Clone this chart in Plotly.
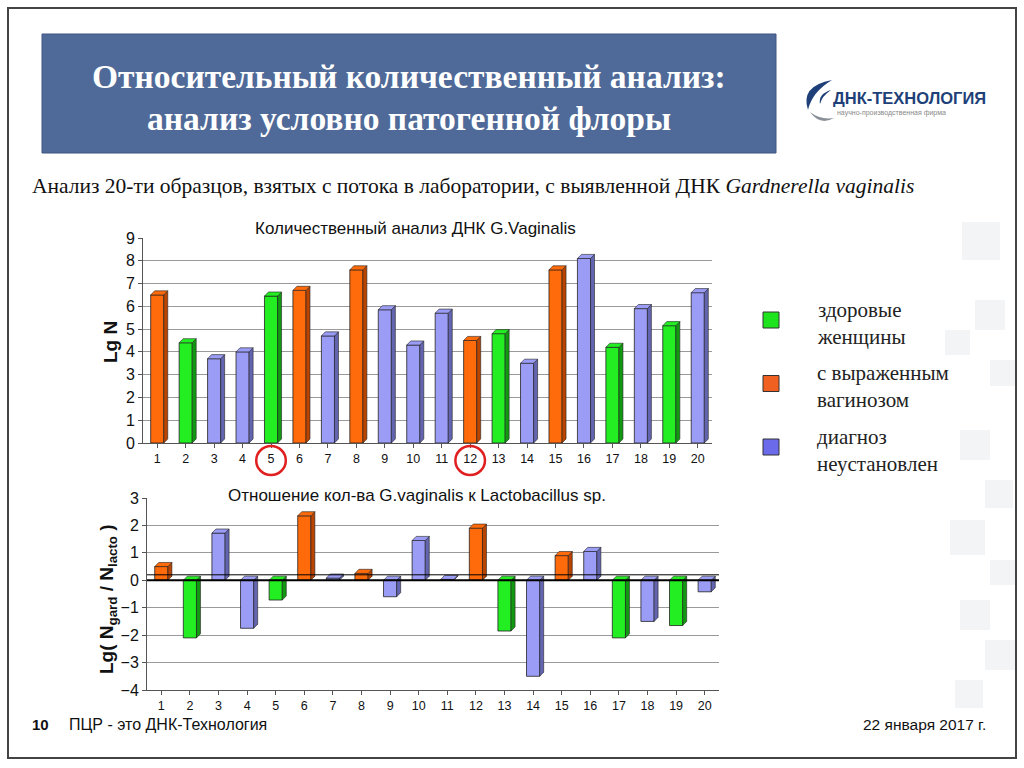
import plotly.graph_objects as go

samples = list(range(1, 21))
lg_n = [6.5, 4.4, 3.7, 4.0, 6.45, 6.7, 4.7, 7.6, 5.85, 4.3, 5.7, 4.5, 4.8, 3.5, 7.6, 8.1, 4.2, 5.9, 5.15, 6.6]
lg_ratio = [0.5, -2.1, 1.72, -1.75, -0.72, 2.35, 0.08, 0.25, -0.6, 1.45, 0.03, 1.9, -1.85, -3.5, 0.9, 1.05, -2.1, -1.5, -1.65, -0.42]
groups = ["o", "g", "b", "b", "g", "o", "b", "o", "b", "b", "b", "o", "g", "b", "o", "b", "g", "b", "g", "b"]
group_colors = {"g": "#22EE22", "o": "#FF6A0A", "b": "#9A9CF6"}
side_colors = {"g": "#119911", "o": "#B84400", "b": "#6465B0"}
legend_labels = [("g", "здоровые", "женщины"), ("o", "с выраженным", "вагинозом"), ("b", "диагноз", "неустановлен")]
legend_colors = {"g": "#1EE41E", "o": "#F06020", "b": "#6A6AEA"}
highlight = [5, 12]

W, H = 1024, 768
def px(x): return x / W
def py(y): return 1 - y / H

fig = go.Figure()
colors = [group_colors[g] for g in groups]
bw = 0.46
fig.add_trace(go.Bar(x=samples, y=lg_n, width=bw, marker=dict(color=colors, line=dict(color="#222", width=0.8)),
                     xaxis="x", yaxis="y", showlegend=False, hoverinfo="skip"))
fig.add_trace(go.Bar(x=samples, y=lg_ratio, width=bw, marker=dict(color=colors, line=dict(color="#222", width=0.8)),
                     xaxis="x2", yaxis="y2", showlegend=False, hoverinfo="skip"))

shapes = []
# slide frame
shapes.append(dict(type="rect", xref="paper", yref="paper", x0=px(8), x1=px(1016), y0=py(758), y1=py(8),
                   line=dict(color="#444", width=2), fillcolor="rgba(0,0,0,0)"))
# title box
shapes.append(dict(type="rect", xref="paper", yref="paper", x0=px(42), x1=px(776), y0=py(153), y1=py(34),
                   line=dict(color="#3E5580", width=1), fillcolor="#4F6A98", layer="below"))

def faces(xr, yr, vals, dx, dy):
    for x, v, g in zip(samples, vals, groups):
        hi = max(v, 0); lo = min(v, 0)
        r = x + bw / 2; l = x - bw / 2
        shapes.append(dict(type="path", xref=xr, yref=yr,
                           path=f"M{r},{lo} L{r+dx},{lo+dy} L{r+dx},{hi+dy} L{r},{hi} Z",
                           fillcolor=side_colors[g], line=dict(color="#222", width=0.6)))
        shapes.append(dict(type="path", xref=xr, yref=yr,
                           path=f"M{l},{hi} L{r},{hi} L{r+dx},{hi+dy} L{l+dx},{hi+dy} Z",
                           fillcolor=group_colors[g], line=dict(color="#222", width=0.6)))

faces("x", "y", lg_n, 0.14, 0.18)
faces("x2", "y2", lg_ratio, 0.14, 0.15)

# floor edge of upper chart and zero line on lower chart
shapes.append(dict(type="line", xref="x", yref="y", x0=20.5, x1=20.8, y0=0, y1=0.3, line=dict(color="#555", width=1)))
shapes.append(dict(type="line", xref="x2", yref="y2", x0=0.5, x1=20.9, y0=0, y1=0, line=dict(color="#000", width=2)))
shapes.append(dict(type="line", xref="x2", yref="y2", x0=0.5, x1=20.9, y0=0.2, y1=0.2, line=dict(color="#000", width=1)))

# red circles
for h in highlight:
    shapes.append(dict(type="circle", xref="x", yref="paper", x0=h - 0.52, x1=h + 0.52, y0=py(475), y1=py(446),
                       line=dict(color="#E02020", width=2.5)))

# legend squares
for i, (g, a, b) in enumerate(legend_labels):
    yc = 320 + i * 63.5
    shapes.append(dict(type="rect", xref="paper", yref="paper", x0=px(763), x1=px(779), y0=py(yc + 8), y1=py(yc - 8),
                       fillcolor=legend_colors[g], line=dict(color="#333", width=1)))

# logo swirl
shapes.append(dict(type="path", xref="paper", yref="paper",
                   path=f"M{px(832)},{py(80)} Q{px(800)},{py(86)} {px(808)},{py(110)} Q{px(812)},{py(92)} {px(832)},{py(80)} Z",
                   fillcolor="#1E3F78", line=dict(width=0)))
shapes.append(dict(type="path", xref="paper", yref="paper",
                   path=f"M{px(831)},{py(90)} Q{px(818)},{py(94)} {px(820)},{py(104)} Q{px(822)},{py(96)} {px(831)},{py(90)} Z",
                   fillcolor="#1E3F78", line=dict(width=0)))
shapes.append(dict(type="path", xref="paper", yref="paper",
                   path=f"M{px(810)},{py(112)} Q{px(820)},{py(126)} {px(834)},{py(118)} Q{px(820)},{py(120)} {px(810)},{py(112)} Z",
                   fillcolor="#8A9099", line=dict(width=0)))

# faint background squares at right
for (x0, y0, s) in [(962, 222, 38), (975, 300, 30), (945, 330, 25), (990, 360, 26), (960, 430, 30), (985, 480, 28),
                    (950, 520, 35), (990, 560, 25), (960, 600, 30), (985, 640, 30), (955, 680, 28)]:
    shapes.append(dict(type="rect", xref="paper", yref="paper", x0=px(x0), x1=px(x0 + s), y0=py(y0 + s), y1=py(y0),
                       fillcolor="rgba(200,205,210,0.22)", line=dict(width=0), layer="below"))

ann = []
serif = "Liberation Serif, Times New Roman, serif"
sans = "Liberation Sans, Arial"
ann.append(dict(xref="paper", yref="paper", x=px(409), y=py(76), text="<b>Относительный количественный анализ:</b>",
                showarrow=False, font=dict(family=serif, size=33.5, color="white"), xanchor="center", yanchor="middle"))
ann.append(dict(xref="paper", yref="paper", x=px(409), y=py(118), text="<b>анализ условно патогенной флоры</b>",
                showarrow=False, font=dict(family=serif, size=33.5, color="white"), xanchor="center", yanchor="middle"))
ann.append(dict(xref="paper", yref="paper", x=px(30), y=py(186),
                text="Анализ 20-ти образцов, взятых с потока в лаборатории, с выявленной ДНК <i>Gardnerella vaginalis</i>",
                showarrow=False, font=dict(family=serif, size=21.5, color="#111"), xanchor="left", yanchor="middle"))
# logo
ann.append(dict(xref="paper", yref="paper", x=px(831), y=py(98), text="<b>ДНК-ТЕХНОЛОГИЯ</b>", showarrow=False,
                font=dict(family=sans, size=16.5, color="#1E3F78"), xanchor="left", yanchor="middle"))
ann.append(dict(xref="paper", yref="paper", x=px(835), y=py(113), text="научно-производственная фирма", showarrow=False,
                font=dict(family=sans, size=7, color="#888"), xanchor="left", yanchor="middle"))
# chart titles
ann.append(dict(xref="paper", yref="paper", x=px(415), y=py(229), text="Количественный анализ ДНК G.Vaginalis",
                showarrow=False, font=dict(family=sans, size=17, color="#111"), bgcolor="white", xanchor="center", yanchor="middle",
                borderpad=2))
ann.append(dict(xref="paper", yref="paper", x=px(417), y=py(495), text="Отношение кол-ва G.vaginalis к Lactobacillus sp.",
                showarrow=False, font=dict(family=sans, size=17, color="#111"), bgcolor="white", xanchor="center", yanchor="middle",
                borderpad=2))
ann.append(dict(xref="paper", yref="paper", x=px(110), y=py(342), text="<b>Lg N</b>", textangle=-90, showarrow=False,
                font=dict(family=sans, size=19, color="#111"), xanchor="center", yanchor="middle"))
ann.append(dict(xref="paper", yref="paper", x=px(108), y=py(599), text="<b>Lg( N<sub>gard</sub> / N<sub>lacto</sub> )</b>",
                textangle=-90, showarrow=False, font=dict(family=sans, size=19, color="#111"),
                xanchor="center", yanchor="middle"))
# legend text
for i, (g, a, b) in enumerate(legend_labels):
    yc = 323 + i * 63.5
    ann.append(dict(xref="paper", yref="paper", x=px(815), y=py(yc), text=f"{a}<br>{b}", showarrow=False, align="left",
                    font=dict(family=serif, size=21, color="#222"), xanchor="left", yanchor="middle"))
# footer
ann.append(dict(xref="paper", yref="paper", x=px(30), y=py(724), text="<b>10</b>", showarrow=False,
                font=dict(family=sans, size=15, color="#111"), xanchor="left", yanchor="middle"))
ann.append(dict(xref="paper", yref="paper", x=px(67), y=py(724), text="ПЦР - это ДНК-Технология", showarrow=False,
                font=dict(family=sans, size=16, color="#111"), xanchor="left", yanchor="middle"))
ann.append(dict(xref="paper", yref="paper", x=px(988), y=py(724), text="22 января 2017 г.", showarrow=False,
                font=dict(family=sans, size=15.5, color="#111"), xanchor="right", yanchor="middle"))

axis_common = dict(showline=True, linecolor="#555", linewidth=1, ticks="outside", ticklen=4, tickcolor="#555",
                   zeroline=False, automargin=False)
xtf = dict(family=sans, size=12.5, color="#111")
ytf = dict(family=sans, size=16, color="#111")
fig.update_layout(
    width=W, height=H, margin=dict(l=0, r=0, t=0, b=0, pad=0, autoexpand=False), paper_bgcolor="white", plot_bgcolor="white",
    bargap=0.5, showlegend=False,
    xaxis=dict(domain=[px(143), px(712)], range=[0.5, 20.5], tickvals=samples, anchor="y", tickfont=xtf, **axis_common,
               showgrid=False),
    yaxis=dict(domain=[py(443), py(238)], range=[0, 9], dtick=1, anchor="x", gridcolor="#9A9A9A", gridwidth=1,
               tickfont=ytf, **axis_common),
    xaxis2=dict(domain=[px(147), px(719)], range=[0.5, 20.5], tickvals=samples, anchor="y2", tickfont=xtf, **axis_common,
                showgrid=False),
    yaxis2=dict(domain=[py(690), py(498)], range=[-4, 3], dtick=1, anchor="x2", gridcolor="#9A9A9A", gridwidth=1,
                tickfont=ytf, **axis_common),
    shapes=shapes, annotations=ann,
)
fig.write_html("out.html", config={"displayModeBar": False, "staticPlot": True},
               post_script="document.body.style.margin='0';document.body.style.overflow='hidden';")
